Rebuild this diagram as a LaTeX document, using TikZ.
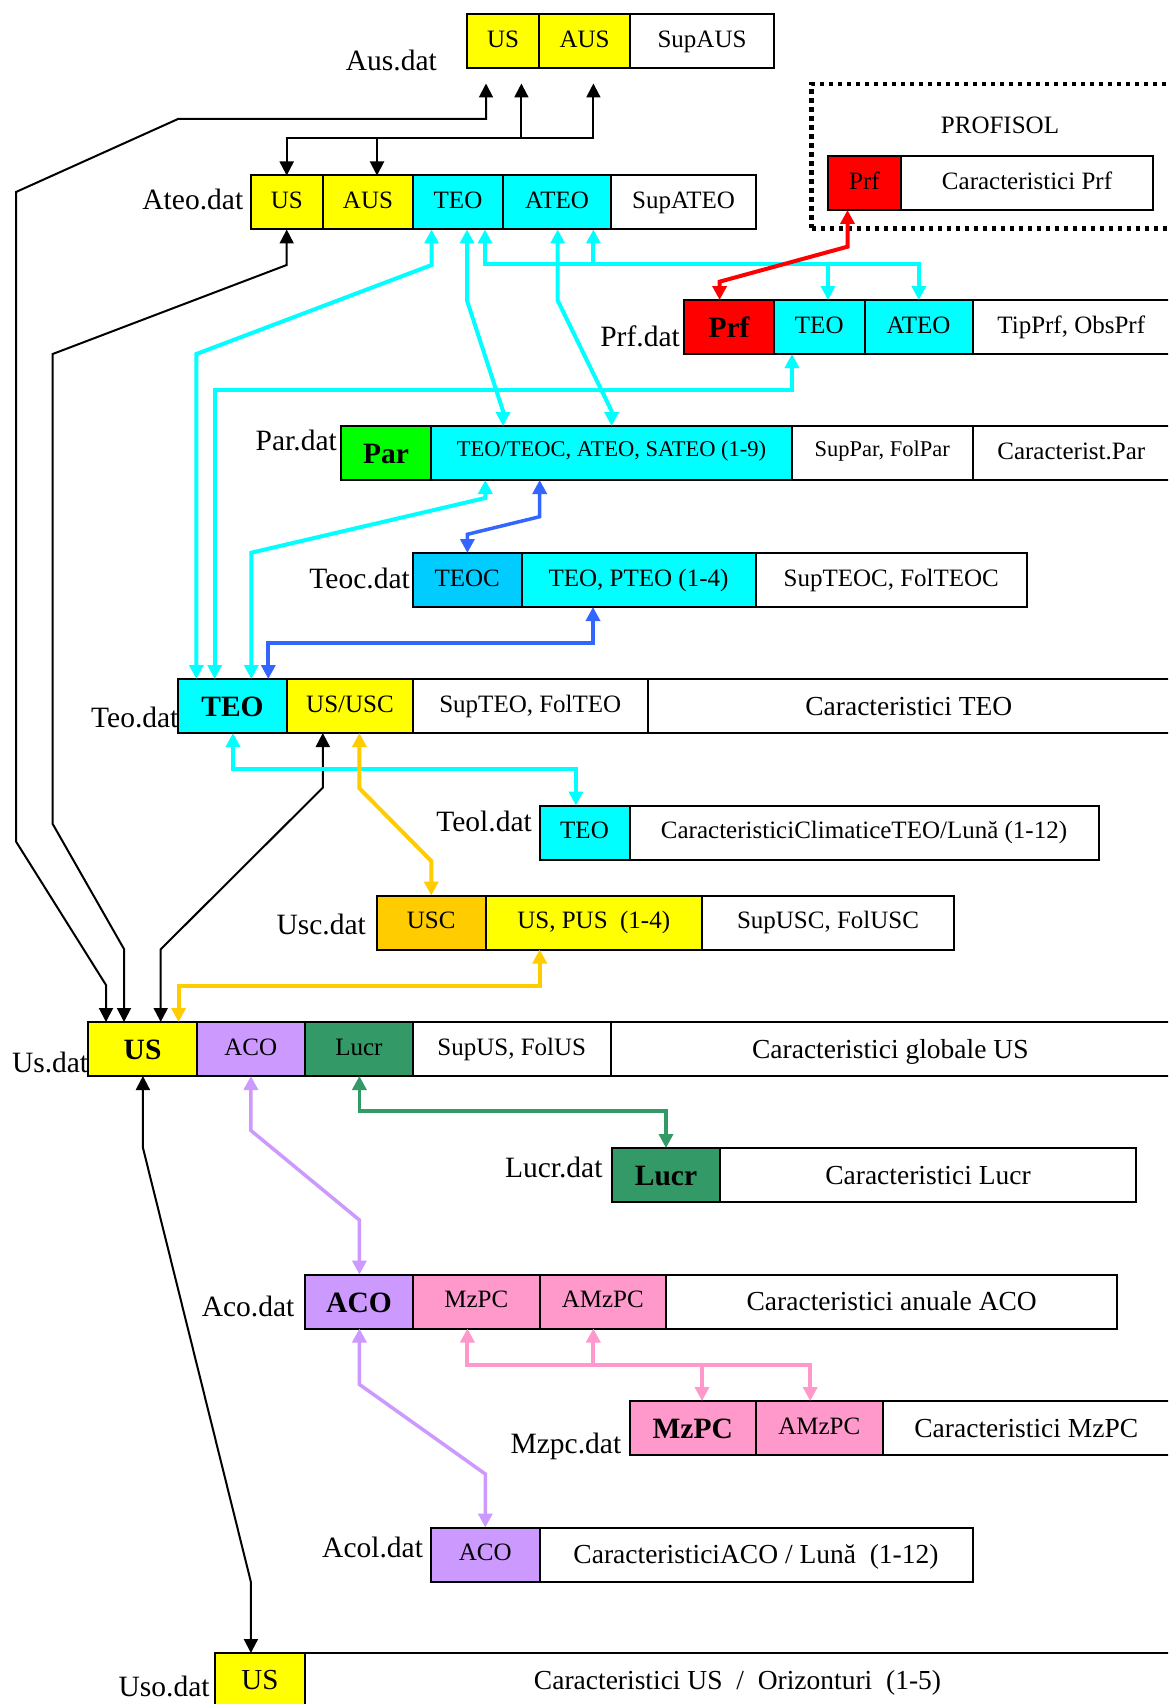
\documentclass[tikz,border=0pt]{standalone}
\usepackage{fontspec}
\setmainfont{Liberation Serif}
\usetikzlibrary{arrows.meta}
\definecolor{cy}{HTML}{00FFFF}
\definecolor{ye}{HTML}{FFFF00}
\definecolor{rd}{HTML}{FF0000}
\definecolor{pargr}{HTML}{00FF00}
\definecolor{teocc}{HTML}{00CCFF}
\definecolor{uscc}{HTML}{FFCC00}
\definecolor{acoc}{HTML}{CC99FF}
\definecolor{lucrc}{HTML}{339966}
\definecolor{mzpcc}{HTML}{FF99CC}
\definecolor{bluc}{HTML}{3366FF}
\newcommand\fzA{\fontsize{25}{30}\selectfont}
\newcommand\fzB{\fontsize{27.5}{33}\selectfont}
\newcommand\fzC{\fontsize{22.5}{27}\selectfont}
\newcommand\fzK{\fontsize{29.5}{35}\selectfont\bfseries}
\newcommand\fzL{\fontsize{29.5}{35}\selectfont}
\newcommand\fzU{\fontsize{29}{35}\selectfont}
\tikzset{
  cell/.style={draw=black, line width=2pt, inner sep=0pt, outer sep=0pt, anchor=north west,
    minimum height=54pt, font=\fzA, text height=16.5pt, text depth=4pt},
  cB/.style={cell, font=\fzB, text height=18.2pt, text depth=0pt},
  cC/.style={cell, font=\fzC, text height=14.9pt, text depth=8pt},
  cK/.style={cell, font=\fzK, text height=21.9pt, text depth=0pt},
  cU/.style={cell, font=\fzU, text height=19.2pt, text depth=0pt},
  lbl/.style={font=\fzL, inner sep=0pt, anchor=east, text height=19.5pt, text depth=0pt},
  blk/.style={draw=black, line width=2pt, <->},
  con/.style={line width=4pt, <->},
}
\begin{document}
\begin{tikzpicture}[x=1pt, y=-1pt, >={Triangle[length=14pt,width=14pt]}, line join=miter]
\useasboundingbox (0,0) rectangle (1168,1704);
\clip (0,0) rectangle (1168,1704);
\fill[white] (0,0) rectangle (1168,1704);

% ---------- Aus.dat
\node[cell, fill=ye, minimum width=72] (ausUS) at (467,14.5) {US};
\node[cell, fill=ye, minimum width=91] (ausAUS) at (539,14.5) {AUS};
\node[cell, fill=white, minimum width=144] (ausSup) at (630,14.5) {SupAUS};
\node[lbl] (lAus) at (437,60.5) {Aus.dat};

% ---------- Ateo.dat
\node[cell, fill=ye, minimum width=72.5] (ateoUS) at (250.5,175.5) {US};
\node[cell, fill=ye, minimum width=90] (ateoAUS) at (323,175.5) {AUS};
\node[cell, fill=cy, minimum width=90] (ateoTEO) at (413,175.5) {TEO};
\node[cell, fill=cy, minimum width=108] (ateoATEO) at (503,175.5) {ATEO};
\node[cell, fill=white, minimum width=145] (ateoSup) at (611,175.5) {SupATEO};
\node[lbl] (lAteo) at (243.4,200) {Ateo.dat};

% ---------- PROFISOL
\node[draw=black, line width=4.5pt, dash pattern=on 4.5pt off 4.5pt, inner sep=0pt,
  anchor=north west, minimum width=420, minimum height=144.5] (profBox) at (809.4,81.7) {};
\node[font=\fzA, inner sep=0pt] (profT) at (1000,125.7) {PROFISOL};
\node[cell, fill=rd, minimum width=73] (profPrf) at (828,156) {Prf};
\node[cell, fill=white, minimum width=252] (profCar) at (901,156) {Caracteristici Prf};

% ---------- Prf.dat
\node[cK, fill=rd, minimum width=90] (prfPrf) at (684,300) {Prf};
\node[cell, fill=cy, minimum width=90.5] (prfTEO) at (774,300) {TEO};
\node[cell, fill=cy, minimum width=108] (prfATEO) at (864.5,300) {ATEO};
\node[cell, fill=white, minimum width=197.5] (prfTip) at (972.5,300) {TipPrf, ObsPrf};
\node[lbl] (lPrf) at (680,337) {Prf.dat};

% ---------- Par.dat
\node[cK, fill=pargr, minimum width=90] (parPar) at (341,426) {Par};
\node[cC, fill=cy, minimum width=361] (parTEO) at (431,426) {TEO/TEOC, ATEO, SATEO (1-9)};
\node[cC, fill=white, minimum width=180.5] (parSup) at (792,426) {SupPar, FolPar};
\node[cell, fill=white, minimum width=197.5] (parCar) at (972.5,426) {Caracterist.Par};
\node[lbl] (lPar) at (337,441) {Par.dat};

% ---------- Teoc.dat
\node[cell, fill=teocc, minimum width=108.5] (teocTEOC) at (413,553) {TEOC};
\node[cell, fill=cy, minimum width=234] (teocTEO) at (521.5,553) {TEO, PTEO (1-4)};
\node[cell, fill=white, minimum width=271.5] (teocSup) at (755.5,553) {SupTEOC, FolTEOC};
\node[lbl] (lTeoc) at (410,579) {Teoc.dat};

% ---------- Teo.dat
\node[cK, fill=cy, minimum width=109] (teoTEO) at (178,679) {TEO};
\node[cell, fill=ye, minimum width=126] (teoUS) at (287,679) {US/USC};
\node[cell, fill=white, minimum width=234.6] (teoSup) at (413,679) {SupTEO, FolTEO};
\node[cB, fill=white, minimum width=522.4] (teoCar) at (647.6,679) {Caracteristici TEO};
\node[lbl] (lTeo) at (178.6,718) {Teo.dat};

% ---------- Teol.dat
\node[cell, fill=cy, minimum width=90] (teolTEO) at (539.5,805.5) {TEO};
\node[cell, fill=white, minimum width=469] (teolCar) at (629.5,805.5) {CaracteristiciClimaticeTEO/Lună (1-12)};
\node[lbl] (lTeol) at (532,822) {Teol.dat};

% ---------- Usc.dat
\node[cell, fill=uscc, minimum width=108.5] (uscUSC) at (377,895.5) {USC};
\node[cell, fill=ye, minimum width=216.5] (uscUS) at (485.5,895.5) {US, PUS\ \ (1-4)};
\node[cell, fill=white, minimum width=252] (uscSup) at (702,895.5) {SupUSC, FolUSC};
\node[lbl] (lUsc) at (366,924.7) {Usc.dat};

% ---------- Us.dat
\node[cK, fill=ye, minimum width=108.4] (usUS) at (88.4,1022) {US};
\node[cell, fill=acoc, minimum width=108] (usACO) at (196.8,1022) {ACO};
\node[cell, fill=lucrc, minimum width=108.2] (usLucr) at (304.8,1022) {Lucr};
\node[cell, fill=white, minimum width=197.6] (usSup) at (413,1022) {SupUS, FolUS};
\node[cB, fill=white, minimum width=559.4] (usCar) at (610.6,1022) {Caracteristici globale US};
\node[lbl] (lUs) at (88.4,1062.8) {Us.dat};

% ---------- Lucr.dat
\node[cK, fill=lucrc, minimum width=108.7] (lucrL) at (611.6,1148) {Lucr};
\node[cB, fill=white, minimum width=415.4] (lucrCar) at (720.3,1148) {Caracteristici Lucr};
\node[lbl] (lLucr) at (602.7,1167.5) {Lucr.dat};

% ---------- Aco.dat
\node[cK, fill=acoc, minimum width=108] (acoACO) at (305,1274.5) {ACO};
\node[cell, fill=mzpcc, minimum width=126.5] (acoMz) at (413,1274.5) {MzPC};
\node[cell, fill=mzpcc, minimum width=126.5] (acoAMz) at (539.5,1274.5) {AMzPC};
\node[cB, fill=white, minimum width=451.4] (acoCar) at (666,1274.5) {Caracteristici anuale ACO};
\node[lbl] (lAco) at (294.6,1306.4) {Aco.dat};

% ---------- Mzpc.dat
\node[cK, fill=mzpcc, minimum width=126.5] (mzMz) at (629.5,1401) {MzPC};
\node[cell, fill=mzpcc, minimum width=126.5] (mzAMz) at (756,1401) {AMzPC};
\node[cB, fill=white, minimum width=287.5] (mzCar) at (882.5,1401) {Caracteristici MzPC};
\node[lbl] (lMz) at (621.4,1444) {Mzpc.dat};

% ---------- Acol.dat
\node[cell, fill=acoc, minimum width=108.5] (acolACO) at (431,1527.5) {ACO};
\node[cB, fill=white, minimum width=433] (acolCar) at (539.5,1527.5) {CaracteristiciACO / Lună\ \ (1-12)};
\node[lbl] (lAcol) at (423.2,1548) {Acol.dat};

% ---------- Uso.dat
\node[cU, fill=ye, minimum width=90.3] (usoUS) at (214.7,1653) {US};
\node[cB, fill=white, minimum width=865] (usoCar) at (305,1653) {Caracteristici US\ \ /\ \ Orizonturi\ \ (1-5)};
\node[lbl] (lUso) at (209.8,1686.5) {Uso.dat};

% ================= connectors
\coordinate (ausBot) at ([yshift=-15pt]ausUS.south);
% black
\draw[blk] (486,0 |- ausBot) -- (486,119) -- (178,119) -- (16,192) -- (16,841.5) -- (106,985) -- (106,0 |- usUS.north);
\draw[blk] (286.7,0 |- ateoUS.south) -- (286.7,265) -- (52.7,354) -- (52.7,824) -- (124,949) -- (124,0 |- usUS.north);
\draw[blk] (322.8,0 |- teoUS.south) -- (322.8,787.7) -- (160.7,949.3) -- (160.7,0 |- usUS.north);
\coordinate (jB1) at (521.4,138);
\coordinate (jB2) at (377,138);
\draw[blk] (593.4,0 |- ausBot) -- (593.4,138) -- (286.7,138) -- (286.7,0 |- ateoUS.north);
\draw[blk,->] (jB1) -- (521.4,0 |- ausBot);
\draw[blk,->] (jB2) -- (377,0 |- ateoAUS.north);
\draw[blk] (142.9,0 |- usUS.south) -- (142.9,1147.6) -- (250.9,1582) -- (250.9,0 |- usoUS.north);

% cyan
\draw[con, cy] (431.6,0 |- ateoTEO.south) -- (431.6,265) -- (196.4,354) -- (196.4,0 |- teoTEO.north);
\draw[con, cy] (467,0 |- ateoTEO.south) -- (467,300.5) -- (503,411) -- (503,0 |- parTEO.north);
\draw[con, cy] (557.7,0 |- ateoATEO.south) -- (557.7,300.5) -- (611.6,411) -- (611.6,0 |- parTEO.north);
\coordinate (jC1) at (593.4,264);
\coordinate (jC2) at (828,264);
\draw[con, cy] (485,0 |- ateoTEO.south) -- (485,264) -- (918.8,264) -- (918.8,0 |- prfATEO.north);
\draw[con, cy, ->] (jC1) -- (593.4,0 |- ateoATEO.south);
\draw[con, cy, ->] (jC2) -- (828,0 |- prfTEO.north);
\draw[con, cy] (792,0 |- prfTEO.south) -- (792,390) -- (214.7,390) -- (214.7,0 |- teoTEO.north);
\draw[con, cy] (485.3,0 |- parTEO.south) -- (485.3,498) -- (251.3,552.7) -- (251.3,0 |- teoTEO.north);
\draw[con, cy] (233,0 |- teoTEO.south) -- (233,769.3) -- (575.9,769.3) -- (575.9,0 |- teolTEO.north);

% blue
\draw[con, bluc, line width=3.5pt] (539.7,0 |- parTEO.south) -- (539.7,516.7) -- (467.4,534.3) -- (467.4,0 |- teocTEOC.north);
\draw[con, bluc] (593,0 |- teocTEO.south) -- (593,643.3) -- (268.3,643.3) -- (268.3,0 |- teoTEO.north);

% red
\draw[con, rd] (847.5,0 |- profPrf.south) -- (847.5,246.7) -- (719.6,281.7) -- (719.6,0 |- prfPrf.north);

% orange
\draw[con, uscc] (359.4,0 |- teoUS.south) -- (359.4,788.3) -- (431.25,861) -- (431.25,0 |- uscUSC.north);
\draw[con, uscc] (539.7,0 |- uscUS.south) -- (539.7,985.7) -- (178.6,985.7) -- (178.6,0 |- usUS.north);

% green
\draw[con, lucrc, line width=3.5pt] (359.4,0 |- usLucr.south) -- (359.4,1111) -- (666,1111) -- (666,0 |- lucrL.north);

% purple
\draw[con, acoc, line width=3.5pt] (250.9,0 |- usACO.south) -- (250.9,1130.5) -- (359.4,1220) -- (359.4,0 |- acoACO.north);
\draw[con, acoc, line width=3.5pt] (359.4,0 |- acoACO.south) -- (359.4,1384.4) -- (485.3,1474) -- (485.3,0 |- acolACO.north);

% pink
\coordinate (jK1) at (593.3,1364.5);
\coordinate (jK2) at (702,1364.5);
\draw[con, mzpcc] (467.4,0 |- acoMz.south) -- (467.4,1364.5) -- (810.2,1364.5) -- (810.2,0 |- mzAMz.north);
\draw[con, mzpcc, ->] (jK1) -- (593.3,0 |- acoAMz.south);
\draw[con, mzpcc, ->] (jK2) -- (702,0 |- mzMz.north);
\end{tikzpicture}
\end{document}
